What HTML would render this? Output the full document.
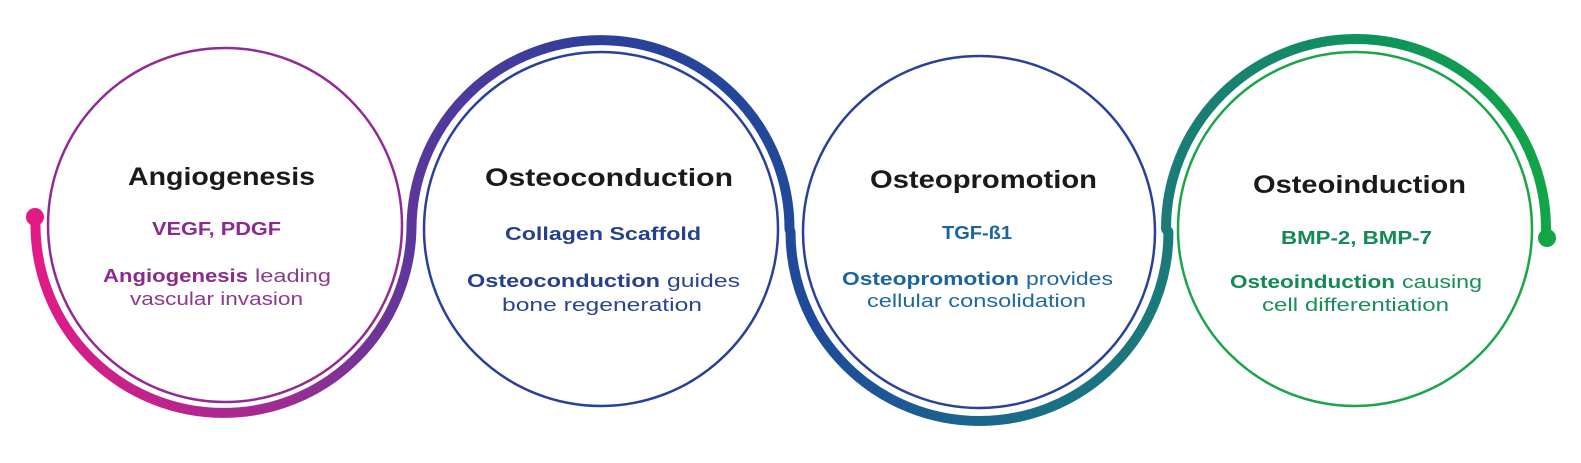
<!DOCTYPE html>
<html><head><meta charset="utf-8"><style>
html,body{margin:0;padding:0;background:#fff;}
svg{display:block;}
text{font-family:"Liberation Sans",Arial,sans-serif;}
</style></head><body>
<svg width="1581" height="463" viewBox="0 0 1581 463" xmlns="http://www.w3.org/2000/svg">
<defs>
<linearGradient id="g" gradientUnits="userSpaceOnUse" x1="30" y1="0" x2="1550" y2="0">
<stop offset="0" stop-color="#e21a86"/>
<stop offset="0.17" stop-color="#9a2d92"/>
<stop offset="0.26" stop-color="#56389c"/>
<stop offset="0.38" stop-color="#2b3f9b"/>
<stop offset="0.52" stop-color="#1f4b9a"/>
<stop offset="0.64" stop-color="#1a6a8a"/>
<stop offset="0.75" stop-color="#1b7b78"/>
<stop offset="0.9" stop-color="#0d9658"/>
<stop offset="1" stop-color="#12a548"/>
</linearGradient>
</defs>
<circle cx="225" cy="225" r="177" fill="none" stroke="#922a96" stroke-width="2.5"/>
<circle cx="601" cy="229" r="177" fill="none" stroke="#2a3f9a" stroke-width="2.5"/>
<circle cx="979" cy="232" r="176" fill="none" stroke="#2a3f9a" stroke-width="2.5"/>
<circle cx="1355" cy="229" r="177" fill="none" stroke="#1aa54a" stroke-width="2.5"/>
<path d="M35,217 L35.5,225 A188,188 0 0 0 411.5,225 L411.5,229 A189,189 0 0 1 789.5,229 L790.5,232 A189,189 0 0 0 1168.5,232 L1166,229 A190,190 0 0 1 1546,229 L1547,238" fill="none" stroke="url(#g)" stroke-width="10" stroke-linejoin="round"/>
<circle cx="35" cy="217" r="9" fill="#e21a86"/>
<circle cx="1547" cy="238" r="9" fill="#12a548"/>

<g font-weight="bold" fill="#1a1a1a" font-size="25">
<text x="128" y="185" textLength="187" lengthAdjust="spacingAndGlyphs">Angiogenesis</text>
<text x="485" y="186" textLength="248" lengthAdjust="spacingAndGlyphs">Osteoconduction</text>
<text x="870" y="188" textLength="227" lengthAdjust="spacingAndGlyphs">Osteopromotion</text>
<text x="1253" y="193" textLength="213" lengthAdjust="spacingAndGlyphs">Osteoinduction</text>
</g>
<g font-size="18">
<text x="152" y="235" font-weight="bold" fill="#8b2a8e" textLength="129" lengthAdjust="spacingAndGlyphs">VEGF, PDGF</text>
<text x="103" y="282" font-weight="bold" fill="#8b2a8e" textLength="145" lengthAdjust="spacingAndGlyphs">Angiogenesis</text>
<text x="255" y="282" fill="#8b3a8e" textLength="76" lengthAdjust="spacingAndGlyphs">leading</text>
<text x="130" y="305" fill="#8b3a8e" textLength="173" lengthAdjust="spacingAndGlyphs">vascular invasion</text>

<text x="505" y="240" font-weight="bold" fill="#25408f" textLength="196" lengthAdjust="spacingAndGlyphs">Collagen Scaffold</text>
<text x="467" y="287" font-weight="bold" fill="#25408f" textLength="193" lengthAdjust="spacingAndGlyphs">Osteoconduction</text>
<text x="667" y="287" fill="#2a4590" textLength="73" lengthAdjust="spacingAndGlyphs">guides</text>
<text x="502" y="311" fill="#2a4590" textLength="200" lengthAdjust="spacingAndGlyphs">bone regeneration</text>

<text x="942" y="239" font-weight="bold" fill="#1a64a0" textLength="70" lengthAdjust="spacingAndGlyphs">TGF-ß1</text>
<text x="842" y="285" font-weight="bold" fill="#1a64a0" textLength="177" lengthAdjust="spacingAndGlyphs">Osteopromotion</text>
<text x="1026" y="285" fill="#1e68a2" textLength="87" lengthAdjust="spacingAndGlyphs">provides</text>
<text x="867" y="307" fill="#1e68a2" textLength="219" lengthAdjust="spacingAndGlyphs">cellular consolidation</text>

<text x="1281" y="244" font-weight="bold" fill="#138a55" textLength="151" lengthAdjust="spacingAndGlyphs">BMP-2, BMP-7</text>
<text x="1230" y="288" font-weight="bold" fill="#138a55" textLength="165" lengthAdjust="spacingAndGlyphs">Osteoinduction</text>
<text x="1402" y="288" fill="#1a8e5a" textLength="80" lengthAdjust="spacingAndGlyphs">causing</text>
<text x="1262" y="311" fill="#1a8e5a" textLength="187" lengthAdjust="spacingAndGlyphs">cell differentiation</text>
</g>
</svg>
</body></html>
